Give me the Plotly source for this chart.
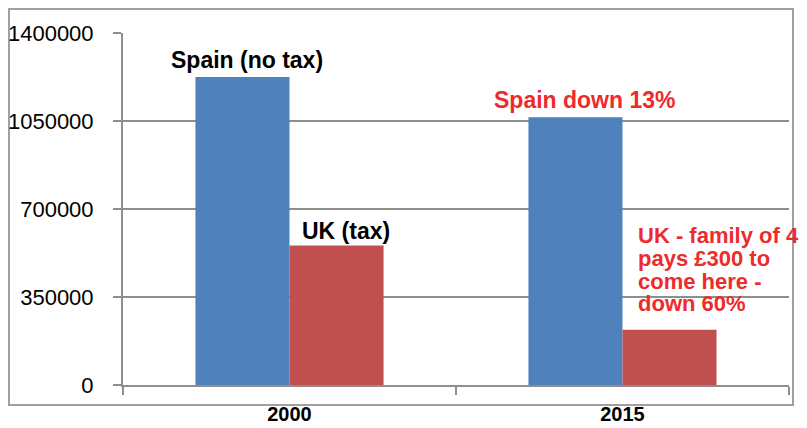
import plotly.graph_objects as go

years = ["2000", "2015"]
spain = [1225000, 1065000]
uk = [555000, 220000]
y_ticks = [0, 350000, 700000, 1050000, 1400000]

spain_labels = ["Spain (no tax)", "Spain down 13%"]
uk_labels = ["UK (tax)", "UK - family of 4<br>pays £300 to<br>come here -<br>down 60%"]
label_colors = ["#000000", "#EE2B2B"]

BLUE = "#4F81BD"
RED = "#C0504D"
GRID = "#8E8E8E"
FONT = "Liberation Sans, Arial, sans-serif"

# The page body has an 8px default margin, so the figure is laid out 8px up/left.
W, H = 799, 420
L, T, R, B = 115, 25, 18, 43
PW, PH = W - L - R, H - T - B

fig = go.Figure()
fig.add_trace(go.Bar(x=years, y=spain, name="Spain", marker=dict(color=BLUE, line=dict(width=0))))
fig.add_trace(go.Bar(x=years, y=uk, name="UK", marker=dict(color=RED, line=dict(width=0))))

bar_half = (1 - 0.435) / 4  # centre offset of each bar within its group

annotations = []
for i, (val, txt) in enumerate(zip(spain, spain_labels)):
    annotations.append(dict(
        x=i - bar_half, y=val, xref="x", yref="y", text=txt, showarrow=False,
        xanchor="center", yanchor="bottom", xshift=5 if i == 0 else 9, yshift=2,
        font=dict(family=FONT, size=23, color=label_colors[i], weight="bold")))
annotations.append(dict(
    x=0 + bar_half, y=uk[0], xref="x", yref="y", text=uk_labels[0], showarrow=False,
    xanchor="center", yanchor="bottom", xshift=9, yshift=-1,
    font=dict(family=FONT, size=23, color=label_colors[0], weight="bold")))
lines = uk_labels[1].split("<br>")
for k, line in enumerate(lines):
    annotations.append(dict(
        x=1 + bar_half, y=uk[1], xref="x", yref="y", text=line, showarrow=False,
        xanchor="left", yanchor="middle", xshift=-47 + 13, yshift=94 - k * 22.7,
        font=dict(family=FONT, size=22, color=label_colors[1], weight="bold")))

fig.update_layout(
    width=W, height=H,
    margin=dict(l=L, r=R, t=T, b=B, pad=0, autoexpand=False),
    paper_bgcolor="white", plot_bgcolor="white",
    barmode="group", bargap=0.435, bargroupgap=0,
    showlegend=False,
    font=dict(family=FONT, color="#000000"),
    annotations=annotations,
    shapes=[dict(type="rect", xref="paper", yref="paper",
                 x0=(1 - L) / PW, x1=(785 - L) / PW,
                 y0=(T + PH - 397) / PH, y1=(T + PH - 1) / PH,
                 line=dict(color="#A0A0A0", width=2), fillcolor="rgba(0,0,0,0)",
                 layer="below")],
)
fig.update_xaxes(
    type="category", range=[-0.5, len(years) - 0.5], autorange=False,
    showgrid=False, showline=True, linecolor=GRID, linewidth=2,
    ticks="outside", ticklen=8, tickcolor=GRID, tickwidth=2, tickson="boundaries",
    tickfont=dict(family=FONT, size=20, color="#000000", weight="bold"),
    ticklabelstandoff=10, fixedrange=True, automargin=False,
)
fig.update_yaxes(
    range=[0, 1400000], autorange=False, tickvals=y_ticks, ticktext=[str(v) for v in y_ticks],
    showgrid=True, gridcolor=GRID, gridwidth=1.5,
    showline=True, linecolor=GRID, linewidth=2,
    ticks="outside", ticklen=8, tickcolor=GRID, tickwidth=1.5,
    tickfont=dict(family=FONT, size=22, color="#000000"),
    ticklabelstandoff=15, zeroline=False, fixedrange=True, automargin=False,
)

fig.write_html("out.html")
